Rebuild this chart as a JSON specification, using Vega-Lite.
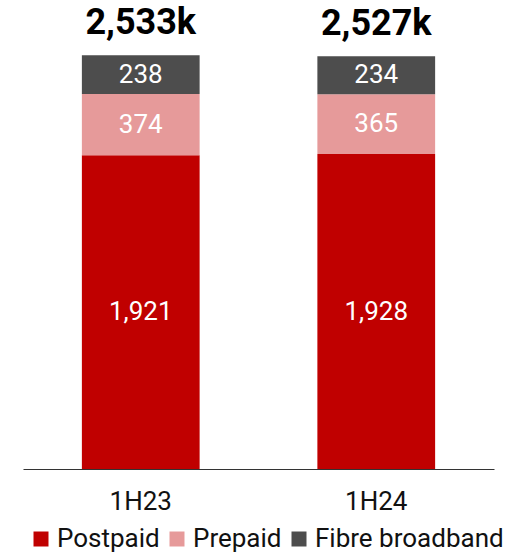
{
  "$schema": "https://vega.github.io/schema/vega-lite/v6.json",
  "width": 471,
  "height": 464,
  "autosize": {"type": "none"},
  "padding": {"left": 23, "top": 5, "right": 30, "bottom": 85},
  "config": {"view": {"stroke": null}, "font": "Roboto"},
  "data": {
    "values": [
      {"period": "1H23", "segment": "Postpaid", "ord": 1, "value": 1921},
      {"period": "1H23", "segment": "Prepaid", "ord": 2, "value": 374},
      {"period": "1H23", "segment": "Fibre broadband", "ord": 3, "value": 238},
      {"period": "1H24", "segment": "Postpaid", "ord": 1, "value": 1928},
      {"period": "1H24", "segment": "Prepaid", "ord": 2, "value": 365},
      {"period": "1H24", "segment": "Fibre broadband", "ord": 3, "value": 234}
    ]
  },
  "transform": [
    {"stack": "value", "groupby": ["period"], "sort": [{"field": "ord"}], "as": ["y0", "y1"]},
    {"calculate": "(datum.y0 + datum.y1) / 2", "as": "ymid"}
  ],
  "encoding": {
    "x": {
      "field": "period",
      "type": "nominal",
      "scale": {"paddingInner": 0.5, "paddingOuter": 0.25},
      "axis": {
        "title": null,
        "labelAngle": 0,
        "ticks": false,
        "domainColor": "#333333",
        "domainWidth": 1,
        "labelFontSize": 26,
        "labelColor": "#111111",
        "labelPadding": 19
      }
    }
  },
  "layer": [
    {
      "mark": {"type": "bar"},
      "encoding": {
        "y": {"field": "y0", "type": "quantitative", "scale": {"domain": [0, 2840], "nice": false, "zero": true}, "axis": null},
        "y2": {"field": "y1"},
        "color": {
          "field": "segment",
          "type": "nominal",
          "scale": {"domain": ["Postpaid", "Prepaid", "Fibre broadband"], "range": ["#C00000", "#E69A9A", "#4D4D4D"]},
          "legend": {
            "title": null,
            "orient": "none",
            "legendX": 5,
            "legendY": 521,
            "padding": 0,
            "direction": "horizontal",
            "symbolType": "square",
            "symbolSize": 225,
            "symbolStrokeWidth": 0,
            "labelFontSize": 26,
            "labelLimit": 300,
            "labelColor": "#111111",
            "labelOffset": 3,
            "columnPadding": 4
          }
        }
      }
    },
    {
      "mark": {"type": "text", "fill": "white", "fontSize": 26},
      "encoding": {
        "y": {"field": "ymid", "type": "quantitative"},
        "text": {"field": "value", "type": "quantitative", "format": ","}
      }
    },
    {
      "transform": [
        {"aggregate": [{"op": "sum", "field": "value", "as": "total"}], "groupby": ["period"]},
        {"calculate": "format(datum.total, ',') + 'k'", "as": "lbl"}
      ],
      "mark": {"type": "text", "fontSize": 36, "fontWeight": "bold", "baseline": "alphabetic", "dy": -21, "fill": "black"},
      "encoding": {
        "y": {"field": "total", "type": "quantitative"},
        "text": {"field": "lbl", "type": "nominal"}
      }
    }
  ]
}
